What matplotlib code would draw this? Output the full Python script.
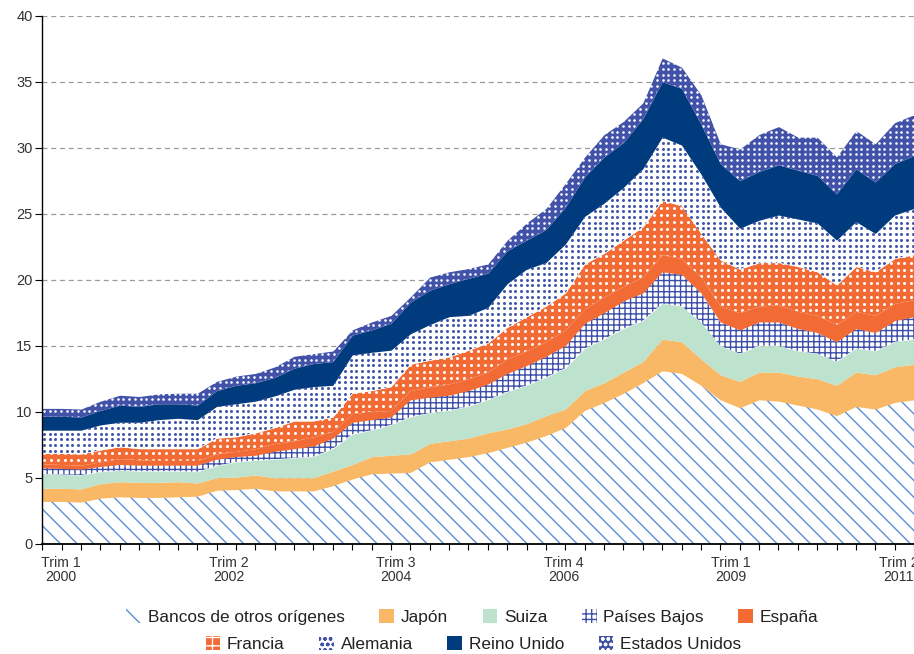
import numpy as np
import matplotlib.pyplot as plt
from matplotlib.patches import Patch

plt.rcParams['font.family'] = ['Liberation Sans', 'DejaVu Sans']
plt.rcParams['hatch.linewidth'] = 1.0

# trimestres desde 2000 T1 (mm de dólares, escala del eje izquierdo)
bancos = [3.2, 3.2, 3.15, 3.45, 3.55, 3.5, 3.5, 3.55, 3.6, 4.05,
          4.1, 4.2, 4.0, 4.0, 4.0, 4.4, 4.9, 5.3, 5.35, 5.4,
          6.2, 6.4, 6.6, 6.9, 7.3, 7.7, 8.2, 8.8, 10.1, 10.7,
          11.4, 12.2, 13.1, 12.9, 12.0, 10.9, 10.3, 10.9, 10.8, 10.5,
          10.2, 9.7, 10.4, 10.2, 10.7, 10.9]
japon = [1.0, 1.0, 1.0, 1.1, 1.15, 1.15, 1.15, 1.15, 1.0, 0.95,
         0.95, 1.0, 1.0, 1.0, 1.0, 1.1, 1.1, 1.3, 1.35, 1.4,
         1.4, 1.4, 1.4, 1.5, 1.4, 1.4, 1.5, 1.4, 1.5, 1.5,
         1.6, 1.6, 2.4, 2.4, 2.0, 1.9, 2.0, 2.1, 2.2, 2.2,
         2.3, 2.3, 2.6, 2.6, 2.7, 2.7]
suiza = [1.07, 1.05, 1.05, 0.9, 0.85, 0.85, 0.85, 0.8, 0.85, 0.9,
         1.15, 1.1, 1.4, 1.5, 1.6, 1.7, 2.3, 2.0, 2.3, 2.8,
         2.3, 2.3, 2.4, 2.5, 2.8, 2.9, 2.9, 3.1, 3.2, 3.3,
         3.3, 3.1, 2.7, 2.7, 2.8, 2.2, 2.1, 2.0, 2.0, 1.9,
         1.9, 1.8, 1.8, 1.8, 1.9, 1.9]
paises_bajos = [0.48, 0.45, 0.45, 0.4, 0.45, 0.45, 0.45, 0.45, 0.5, 0.5,
                0.4, 0.4, 0.6, 0.7, 0.8, 0.8, 0.9, 0.8, 0.6, 1.3,
                1.2, 1.15, 1.2, 1.2, 1.4, 1.5, 1.6, 1.7, 1.9, 2.0,
                2.1, 2.1, 2.4, 2.4, 2.2, 1.8, 1.8, 1.8, 1.8, 1.7,
                1.6, 1.5, 1.5, 1.4, 1.6, 1.7]
espana = [0.3, 0.3, 0.3, 0.35, 0.45, 0.4, 0.35, 0.35, 0.35, 0.4,
          0.4, 0.5, 0.6, 0.6, 0.7, 0.5, 0.66, 0.6, 0.5, 0.7,
          0.8, 0.85, 0.9, 0.9, 1.1, 1.1, 1.1, 1.2, 1.1, 1.2,
          1.1, 1.2, 1.3, 1.2, 1.2, 1.2, 1.3, 1.2, 1.3, 1.3,
          1.3, 1.3, 1.3, 1.3, 1.3, 1.3]
francia = [0.8, 0.85, 0.85, 0.9, 0.9, 0.85, 0.9, 0.9, 0.9, 1.2,
           1.1, 1.2, 1.2, 1.5, 1.2, 1.1, 1.54, 1.6, 1.8, 2.0,
           2.0, 2.05, 2.16, 2.2, 2.4, 2.6, 2.7, 2.8, 3.4, 3.3,
           3.5, 3.8, 4.1, 4.0, 3.3, 3.5, 3.3, 3.3, 3.2, 3.4,
           3.3, 3.0, 3.4, 3.3, 3.4, 3.4]
alemania = [1.75, 1.75, 1.8, 1.9, 1.85, 2.0, 2.2, 2.3, 2.2, 2.4,
            2.5, 2.4, 2.4, 2.4, 2.6, 2.4, 2.9, 2.9, 2.76, 2.3,
            2.7, 3.05, 2.64, 2.7, 3.3, 3.6, 3.3, 3.7, 3.6, 3.8,
            4.0, 4.4, 4.8, 4.6, 4.5, 4.0, 3.1, 3.2, 3.6, 3.6,
            3.7, 3.4, 3.4, 2.9, 3.3, 3.5]
reino_unido = [1.06, 1.05, 1.0, 1.1, 1.3, 1.2, 1.2, 1.1, 1.1, 1.2,
               1.4, 1.4, 1.4, 1.6, 1.75, 1.8, 1.5, 1.7, 2.04, 2.4,
               2.6, 2.5, 2.8, 2.6, 2.5, 2.2, 2.5, 2.8, 3.0, 3.5,
               3.4, 3.8, 4.2, 4.3, 3.8, 3.3, 3.6, 3.7, 3.8, 3.7,
               3.6, 3.5, 4.0, 3.9, 3.9, 4.0]
estados_unidos = [0.59, 0.6, 0.6, 0.7, 0.75, 0.75, 0.75, 0.8, 0.9, 0.7,
                  0.7, 0.7, 0.8, 0.9, 0.75, 0.8, 0.4, 0.6, 0.6, 0.4,
                  1.0, 0.9, 0.75, 0.7, 0.8, 1.3, 1.6, 1.8, 1.5, 1.7,
                  1.6, 1.2, 1.8, 1.6, 2.2, 1.5, 2.4, 2.8, 2.9, 2.5,
                  2.9, 2.8, 2.9, 2.9, 3.1, 3.1]

nombres = ['Bancos de otros orígenes', 'Japón', 'Suiza', 'Países Bajos', 'España',
           'Francia', 'Alemania', 'Reino Unido', 'Estados Unidos']
etiquetas_x = ['Trim 1\n2000', 'Trim 2\n2002', 'Trim 3\n2004',
               'Trim 4\n2006', 'Trim 1\n2009', 'Trim 2\n2011']

series = [bancos, japon, suiza, paises_bajos, espana,
          francia, alemania, reino_unido, estados_unidos]
# relleno, color de trama, trama del relleno, trama de la leyenda,
# puntos (color, separación px, diámetro px)
estilos = [
    ('white', '#5b8fd8', '\\\\', '\\\\', None),
    ('#f9b865', '#f9b865', None, None, None),
    ('#bde2cd', '#bde2cd', None, None, None),
    ('white', '#3d4fa8', '+++', '+++', None),
    ('#f26b35', '#f26b35', None, None, None),
    ('#f26b35', 'white', None, '++', ('white', 6.8, 3.0)),
    ('white', '#4055a8', None, 'ooo', ('#4055a8', 5.7, 3.0)),
    ('#003b7e', '#003b7e', None, None, None),
    ('#4152a8', 'white', None, 'ooo', ('white', 5.7, 2.6)),
]

x = np.arange(len(bancos))
fig = plt.figure(figsize=(9.14, 6.54), dpi=100)
ax = fig.add_axes([42.3 / 914, (654 - 543.7) / 654, (914 - 42.3) / 914, 528 / 654])
ax.set_xlim(0, (914 - 42.3) / 19.45)
ax.set_ylim(0, 40)

# escala de píxeles por unidad de datos, para las tramas de puntos
p0, p1 = ax.transData.transform([(0, 0), (1, 1)])
px_x, px_y = p1 - p0

base = np.zeros(len(x))
handles = []
for vals, nombre, (fc, hc, h, h_leg, puntos) in zip(series, nombres, estilos):
    top = base + np.array(vals)
    poly = ax.fill_between(x, base, top, facecolor=fc, edgecolor=hc, hatch=h,
                           linewidth=0, zorder=2)
    if puntos is not None:
        color, paso, diam = puntos
        gx = np.arange(0.3 * paso / px_x, x[-1] + 1, paso / px_x)
        gy = np.arange(0.3 * paso / px_y, 40, paso / px_y)
        X, Y = np.meshgrid(gx, gy)
        sc = ax.scatter(X.ravel(), Y.ravel(), s=(diam * 0.72) ** 2, c=color,
                        marker='o', linewidths=0, zorder=2.1)
        sc.set_clip_path(poly.get_paths()[0], ax.transData)
    handles.append(Patch(facecolor=fc, edgecolor=hc, hatch=h_leg, linewidth=0))
    base = top

ax.set_yticks(np.arange(0, 41, 5))
ax.yaxis.grid(True, color='#9a9a9a', linestyle=(0, (4, 3)), linewidth=0.9)
ax.set_axisbelow(True)

ax.set_xticks(0.96 + 8.65 * np.arange(len(etiquetas_x)))
ax.set_xticklabels(etiquetas_x, linespacing=1.0)
ax.set_xticks(x, minor=True)
ax.tick_params(axis='x', which='major', length=0, pad=9, labelsize=10.2, labelcolor='#333333')
ax.tick_params(axis='x', which='minor', length=4, width=0.8, direction='out')
ax.tick_params(axis='y', length=5, width=0.8, pad=2, labelsize=10.5, labelcolor='#333333')

for s in ['top', 'right']:
    ax.spines[s].set_visible(False)
ax.spines['left'].set_linewidth(1.0)
ax.spines['bottom'].set_linewidth(1.3)
ax.spines['bottom'].set_zorder(3)

opts = dict(loc='center', frameon=False, fontsize=12.4, handlelength=0.85,
            handleheight=0.85, handletextpad=0.4, columnspacing=2.0,
            labelcolor='#222222', borderpad=0)
leg1 = fig.legend(handles[:5], nombres[:5], ncol=5,
                  bbox_to_anchor=(472.5 / 914, 1 - 617 / 654), **opts)
leg2 = fig.legend(handles[5:], nombres[5:], ncol=4,
                  bbox_to_anchor=(473.5 / 914, 1 - 644 / 654), **opts)

fig.savefig('out.png', dpi=100)
